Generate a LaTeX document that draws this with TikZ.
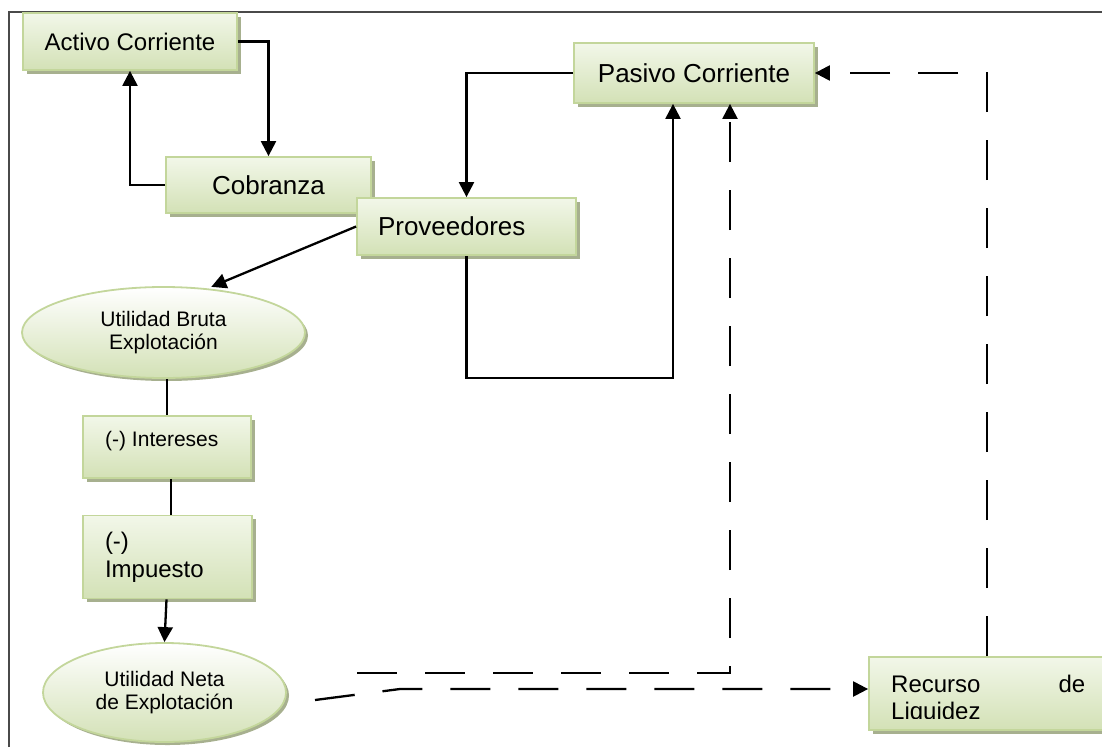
\documentclass[tikz,border=0pt]{standalone}
\usepackage{fontspec}
\setmainfont{Liberation Sans}
\usetikzlibrary{shapes.geometric,shadows,arrows.meta}

\definecolor{boxborder}{HTML}{C3D69B}
\definecolor{boxtop}{HTML}{F2F7E9}
\definecolor{boxbottom}{HTML}{D3E1B6}
\definecolor{boxshadow}{HTML}{A7B08F}
\definecolor{framegray}{HTML}{4A4A4A}

\tikzset{
  greenbox/.style={rectangle, draw=boxborder, line width=1.8pt,
    top color=boxtop, bottom color=boxbottom,
    drop shadow={shadow xshift=3.5pt, shadow yshift=-3.5pt, fill=boxshadow, opacity=1},
    inner sep=0pt, font=\fontsize{26}{30}\selectfont},
  greenoval/.style={ellipse, draw=boxborder, line width=1.8pt,
    top color=white, bottom color=boxbottom,
    drop shadow={shadow xshift=3pt, shadow yshift=-3pt, fill=boxshadow, opacity=1},
    inner sep=0pt, align=center, font=\fontsize{21}{23}\selectfont},
  conn/.style={line width=2.3pt, black},
  tip/.style={-{Triangle[length=15pt,width=15pt]}},
  arr/.style={conn, tip},
  dsh/.style={conn, dash pattern=on 40pt off 28pt},
  dsharr/.style={dsh, tip},
}

\begin{document}
\begin{tikzpicture}[x=1pt, y=-1pt]
  \useasboundingbox (0,0) rectangle (1102,747);
  \clip (0,0) rectangle (1102,747);

  % outer frame
  \draw[framegray, line width=1.5pt] (9,747) -- (9,12) -- (1102,12);

  % boxes
  \node[greenbox, minimum width=214pt, minimum height=57pt,
        font=\fontsize{24}{27}\selectfont] (act) at (130,41.5) {Activo Corriente};
  \node[greenbox, minimum width=205pt, minimum height=56pt] (cob) at (268.5,185) {Cobranza};
  \node[greenbox, minimum width=219pt, minimum height=57pt,
        text width=177pt, align=left] (prov) at (466.5,226.5) {Proveedores};
  \node[greenbox, minimum width=240pt, minimum height=60pt] (pas) at (694,73) {Pasivo Corriente};
  \node[greenbox, minimum width=168pt, minimum height=62pt] (int) at (167,447) {};
  \node[font=\fontsize{21}{23}\selectfont, anchor=base west, inner sep=0pt]
        (intlabel) at (105,446) {(-) Intereses};
  \node[greenbox, minimum width=169pt, minimum height=83pt, text width=125pt,
        align=left, font=\fontsize{24}{28}\selectfont] (imp) at (167.5,557) {(-)\\Impuesto};
  \node[greenbox, minimum width=242pt, minimum height=73pt] (rec) at (990,693.5) {};
  % the second line of this label is cut at the bottom of its text area
  \begin{scope}
    \clip (869,657) rectangle (1102,718.5);
    \node[font=\fontsize{24}{27}\selectfont, anchor=base west, inner sep=0pt,
          text width=194pt, align=left] (reclabel) at (891,692)
          {\makebox[194pt][l]{Recurso\hfill de}\\Liquidez};
  \end{scope}

  % ellipses
  \node[greenoval, minimum width=283pt, minimum height=91pt] (bruta) at (163.5,332.5)
        {Utilidad Bruta\\Explotación};
  \node[greenoval, minimum width=243pt, minimum height=99pt] (neta) at (164.5,692.5)
        {Utilidad Neta\\de Explotación};

  % solid connectors
  \draw[arr] (act.east) -| (cob.north);
  \draw[arr] (cob.west) -| (act.south);
  \draw[arr] (pas.west) -| (prov.north);
  \coordinate (provlow) at (673,378);
  \draw[arr] (prov.south) |- (provlow) -- (provlow |- pas.south);
  \draw[arr, shorten >=4pt] (prov.west) -- (bruta.45);
  \draw[conn] (bruta.south -| int.north) -- (int.north);
  \draw[conn] ([xshift=4pt]int.south) -- ([xshift=4pt]int.south |- imp.north);
  \draw[arr] ([xshift=-1pt]imp.south) -- (neta.north);

  % dashed connectors
  \coordinate (dashA) at (357,673);
  \draw[dsharr] (dashA) -| ([xshift=36pt]pas.south);
  \coordinate (dashB) at (315,700);
  \coordinate (dashC) at (400,689);
  \draw[dsharr] (dashB) -- (dashC) -- (dashC -| rec.west);
  \draw[dsharr] ([xshift=-3pt]rec.north) |- (pas.east);
\end{tikzpicture}
\end{document}
